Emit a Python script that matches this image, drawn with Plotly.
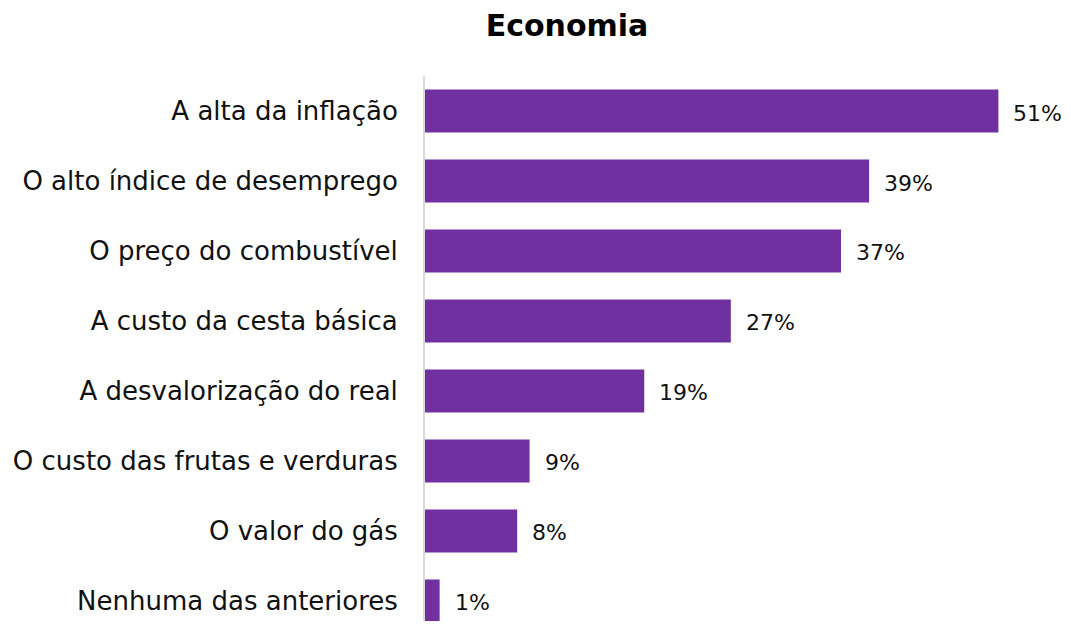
import plotly.graph_objects as go

categories = [
    "A alta da inflação",
    "O alto índice de desemprego",
    "O preço do combustível",
    "A custo da cesta básica",
    "A desvalorização do real",
    "O custo das frutas e verduras",
    "O valor do gás",
    "Nenhuma das anteriores",
]
values = [51.0, 39.5, 37.0, 27.2, 19.5, 9.3, 8.2, 1.3]
labels = ["51%", "39%", "37%", "27%", "19%", "9%", "8%", "1%"]

FONT = "DejaVu Sans"
BAR_COLOR = "#7030A0"
OFF = 8  # default page body margin
W, H = 1071 - 2 * OFF, 629 - 2 * OFF

fig = go.Figure()
fig.add_trace(go.Bar(
    y=categories,
    x=values,
    orientation="h",
    marker=dict(color=BAR_COLOR, line=dict(width=0)),
    width=0.614,
    hoverinfo="skip",
))

for c, v, t in zip(categories, values, labels):
    fig.add_annotation(
        x=v, y=c, text=t, showarrow=False,
        xanchor="left", xshift=13, yshift=-2,
        font=dict(family=FONT, size=22, color="#111111"),
    )

fig.update_layout(
    width=W, height=H,
    margin=dict(l=425 - OFF, r=W - (1040 - OFF), t=76 - OFF, b=0, autoexpand=False),
    paper_bgcolor="white", plot_bgcolor="white",
    showlegend=False,
    title=dict(
        text="<b>Economia</b>", x=(567 - OFF) / W, xanchor="center",
        y=1 - (25 - OFF) / H, yanchor="middle",
        font=dict(family=FONT, size=30, color="black"),
    ),
    xaxis=dict(range=[0, 54.7], visible=False, fixedrange=True, automargin=False),
    yaxis=dict(
        categoryorder="array", categoryarray=categories,
        range=[7.286, -0.5], automargin=False,
        showline=True, linecolor="#d9d9d9", linewidth=2,
        showgrid=False, zeroline=False, ticks="",
        ticklabelstandoff=20,
        tickfont=dict(family=FONT, size=26, color="#111111"),
        fixedrange=True,
    ),
)

fig.write_html("out.html")
